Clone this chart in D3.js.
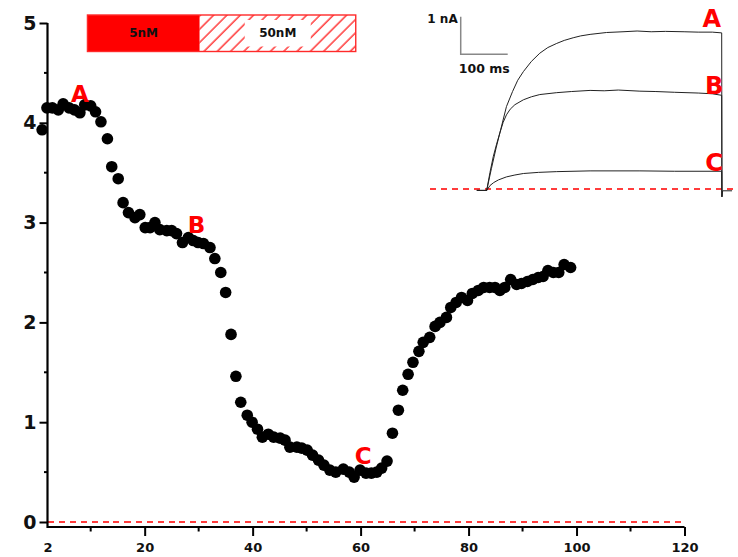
<!DOCTYPE html>
<html>
<head>
<meta charset="utf-8">
<script src="https://cdn.jsdelivr.net/npm/d3@7"></script>
<style>
  html, body { margin: 0; padding: 0; background: #fff; }
  svg { display: block; }
  text { font-family: "DejaVu Sans", Verdana, sans-serif; font-weight: bold; }
</style>
</head>
<body>
<svg id="chart" width="738" height="557"></svg>
<script>
// ---------------- DATA ----------------
const times = [1.0,1.9,2.9,4.0,4.9,6.0,7.0,8.0,8.9,10.0,10.9,11.9,13.1,13.9,15.1,16.0,17.0,18.2,19.1,20.1,
  21.0,21.9,22.8,24.1,25.0,25.9,27.0,28.1,29.0,29.9,30.9,32.1,33.0,34.1,35.0,36.0,36.9,37.8,39.0,39.9,
  40.9,41.8,42.9,43.9,45.1,46.0,46.9,48.2,49.1,50.1,51.1,52.2,53.2,54.3,55.4,56.8,57.9,58.8,59.9,61.0,
  62.0,63.0,63.9,64.9,65.9,67.0,67.8,68.8,69.7,70.8,71.6,72.8,73.8,74.7,75.9,76.7,77.7,78.7,79.8,80.7,
  81.8,82.8,83.9,84.9,85.8,86.7,87.8,88.9,89.8,90.9,91.9,92.9,93.8,94.7,95.7,96.7,97.7,98.9];
const currents = [3.93,4.15,4.15,4.13,4.19,4.15,4.13,4.10,4.18,4.17,4.11,4.01,3.84,3.56,3.44,3.20,3.10,3.05,3.08,2.95,
  2.95,3.00,2.93,2.92,2.92,2.89,2.80,2.85,2.82,2.80,2.79,2.75,2.64,2.50,2.30,1.88,1.46,1.20,1.07,1.00,
  0.93,0.85,0.88,0.85,0.84,0.82,0.75,0.75,0.74,0.72,0.67,0.62,0.57,0.52,0.50,0.53,0.50,0.45,0.52,0.49,
  0.49,0.50,0.54,0.61,0.89,1.12,1.32,1.48,1.60,1.71,1.80,1.85,1.96,2.00,2.05,2.15,2.20,2.25,2.22,2.29,
  2.32,2.35,2.35,2.35,2.32,2.35,2.43,2.38,2.39,2.41,2.43,2.45,2.46,2.52,2.50,2.50,2.58,2.55];

const xTicksMajor = [2, 20, 40, 60, 80, 100, 120];
const xTickLabels = ["2", "20", "40", "60", "80", "100", "120"];
const xTicksMinor = [10, 30, 50, 70, 90, 110];
const yTicksMajor = [0, 1, 2, 3, 4, 5];
const yTickLabels = ["0", "1", "2", "3", "4", "5"];
const yTicksMinor = [0.5, 1.5, 2.5, 3.5, 4.5];

// point annotations on the time course
const markLabels = ["A", "B", "C"];
const markTimes = [8.0, 29.6, 60.5];
const markValues = [4.29, 2.98, 0.66];

// concentration bar
const condLabels = ["5nM", "50nM"];
const condStart = [9.4, 30.2];
const condEnd = [30.2, 59.1];

// inset current traces (time in ms, current in nA)
const traceATime = [-21, 0, 10, 20, 30, 42, 55, 66, 78, 95, 113, 130, 149, 165, 184, 200, 220, 255, 290, 320, 350, 380, 420, 450, 480, 500, 500.5, 502, 522];
const traceAVal  = [-0.03, -0.03, 0.55, 1.1, 1.6, 2.2, 2.6, 2.9, 3.13, 3.4, 3.62, 3.77, 3.88, 3.96, 4.03, 4.08, 4.12, 4.17, 4.19, 4.21, 4.19, 4.2, 4.19, 4.18, 4.18, 4.16, -0.2, -0.04, -0.04];
const traceBTime = [-21, 0, 7, 14, 21, 28, 35, 42, 50, 60, 78, 95, 113, 149, 180, 220, 250, 280, 326, 360, 400, 450, 480, 500, 500.5];
const traceBVal  = [-0.03, -0.03, 0.45, 0.87, 1.2, 1.5, 1.78, 1.98, 2.13, 2.25, 2.38, 2.46, 2.52, 2.57, 2.6, 2.63, 2.62, 2.64, 2.61, 2.6, 2.58, 2.56, 2.54, 2.5, -0.2];
const traceCTime = [-21, 0, 7, 15, 25, 42, 60, 78, 110, 149, 220, 326, 400, 500, 500.5];
const traceCVal  = [-0.03, -0.03, 0.1, 0.18, 0.25, 0.33, 0.38, 0.42, 0.45, 0.47, 0.49, 0.49, 0.48, 0.48, -0.2];
const traceLabels = ["A", "B", "C"];
const traceLabelTime = [479, 484, 484];
const traceLabelVal = [4.52, 2.76, 0.71];
const scaleBarTime = 100;   // ms
const scaleBarCurrent = 1;  // nA

// ---------------- CHART ----------------
const svg = d3.select("#chart");
svg.append("rect").attr("width", 738).attr("height", 557).attr("fill", "#fff");

const x = d3.scaleLinear().domain([2, 120]).range([47.5, 684.5]);
const y = d3.scaleLinear().domain([0, 5]).range([522, 23]);
const xAxisY = 527;

// zero dashed line
svg.append("line")
  .attr("x1", x(2)).attr("x2", x(120)).attr("y1", y(0)).attr("y2", y(0))
  .attr("stroke", "#ff3c3c").attr("stroke-width", 2).attr("stroke-dasharray", "6,5")
  .attr("shape-rendering", "crispEdges");

// x axis
const gx = svg.append("g").attr("transform", `translate(0,${xAxisY})`);
gx.call(d3.axisBottom(x).tickValues(xTicksMajor).tickSize(9).tickSizeOuter(0)
  .tickFormat((d, i) => xTickLabels[i]));
gx.call(g => g.select(".domain").remove());
gx.selectAll(".tick line").attr("stroke", "#000").attr("stroke-width", 2)
  .filter(d => d === 2).remove();
gx.selectAll(".tick text").attr("y", 16).attr("dy", "0.71em")
  .attr("font-size", 13).attr("font-family", "DejaVu Sans, sans-serif").attr("font-weight", "bold").attr("fill", "#111");
gx.selectAll(".minor").data(xTicksMinor).enter().append("line")
  .attr("x1", d => x(d)).attr("x2", d => x(d)).attr("y1", 0).attr("y2", 4.5)
  .attr("stroke", "#000").attr("stroke-width", 2);
gx.append("line").attr("x1", x(2)).attr("x2", x(120)).attr("y1", 0).attr("y2", 0)
  .attr("stroke", "#000").attr("stroke-width", 2.2);

// y axis
const gy = svg.append("g").attr("transform", `translate(${x(2)},0)`);
gy.call(d3.axisLeft(y).tickValues(yTicksMajor).tickSize(8).tickPadding(3).tickSizeOuter(0)
  .tickFormat((d, i) => yTickLabels[i]));
gy.call(g => g.select(".domain").remove());
gy.selectAll(".tick line").attr("stroke", "#000").attr("stroke-width", 2);
gy.selectAll(".tick text").attr("font-size", 19).attr("font-family", "DejaVu Sans, sans-serif")
  .attr("font-weight", "bold").attr("fill", "#111");
gy.selectAll(".minor").data(yTicksMinor).enter().append("line")
  .attr("x1", -3.5).attr("x2", 0).attr("y1", d => y(d)).attr("y2", d => y(d))
  .attr("stroke", "#000").attr("stroke-width", 2);
gy.append("line").attr("x1", 0).attr("x2", 0).attr("y1", y(5)).attr("y2", xAxisY + 1)
  .attr("stroke", "#000").attr("stroke-width", 2.2);

// data dots
const pts = d3.zip(times, currents);
svg.append("g").selectAll("circle").data(pts).enter().append("circle")
  .attr("cx", d => x(d[0])).attr("cy", d => y(d[1])).attr("r", 5.8).attr("fill", "#000");

// A/B/C labels
svg.append("g").selectAll("text").data(markLabels).enter().append("text")
  .attr("x", (d, i) => x(markTimes[i])).attr("y", (d, i) => y(markValues[i]))
  .attr("text-anchor", "middle").attr("dominant-baseline", "central")
  .attr("font-size", 23).attr("fill", "#ff0000").text(d => d);

// concentration bar
const defs = svg.append("defs");
const pat = defs.append("pattern").attr("id", "hatch").attr("patternUnits", "userSpaceOnUse")
  .attr("width", 9.4).attr("height", 9.4).attr("patternTransform", "rotate(45)");
pat.append("rect").attr("width", 9.4).attr("height", 9.4).attr("fill", "#fff");
pat.append("line").attr("x1", 2).attr("x2", 2).attr("y1", 0).attr("y2", 9.4)
  .attr("stroke", "#ff2a2a").attr("stroke-width", 1.4);

const barTop = 15, barH = 36.5;
const bar = svg.append("g");
bar.selectAll("rect.cond").data(condLabels).enter().append("rect")
  .attr("x", (d, i) => x(condStart[i])).attr("y", barTop)
  .attr("width", (d, i) => x(condEnd[i]) - x(condStart[i])).attr("height", barH)
  .attr("fill", (d, i) => i === 0 ? "#ff0000" : "url(#hatch)");
// white box behind second label
bar.append("rect")
  .attr("x", (x(condStart[1]) + x(condEnd[1])) / 2 - 33).attr("y", barTop + 5)
  .attr("width", 66).attr("height", barH - 10).attr("fill", "#fff");
bar.append("rect")
  .attr("x", x(condStart[0])).attr("y", barTop)
  .attr("width", x(condEnd[1]) - x(condStart[0])).attr("height", barH)
  .attr("fill", "none").attr("stroke", "#ff2a2a").attr("stroke-width", 1.4);
bar.selectAll("text").data(condLabels).enter().append("text")
  .attr("x", (d, i) => (x(condStart[i]) + x(condEnd[i])) / 2)
  .attr("y", barTop + barH / 2)
  .attr("text-anchor", "middle").attr("dominant-baseline", "central")
  .attr("font-size", 12).attr("fill", "#111").text(d => d);

// ---------------- INSET ----------------
const xi = d3.scaleLinear().domain([0, 100]).range([486.7, 533.7]);
const yi = d3.scaleLinear().domain([0, 1]).range([189.3, 151.7]);

svg.append("line").attr("x1", 430).attr("x2", 736).attr("y1", Math.round(yi(0))).attr("y2", Math.round(yi(0)))
  .attr("stroke", "#ff3c3c").attr("stroke-width", 1.5).attr("stroke-dasharray", "6,5")
  .attr("shape-rendering", "crispEdges");

const line = d3.line().x(d => xi(d[0])).y(d => yi(d[1])).curve(d3.curveLinear);
const traces = [d3.zip(traceATime, traceAVal), d3.zip(traceBTime, traceBVal), d3.zip(traceCTime, traceCVal)];
svg.append("g").selectAll("path").data(traces).enter().append("path")
  .attr("d", line).attr("fill", "none").attr("stroke", "#222").attr("stroke-width", 1);

// trace labels
svg.append("g").selectAll("text").data(traceLabels).enter().append("text")
  .attr("x", (d, i) => xi(traceLabelTime[i]))
  .attr("y", (d, i) => yi(traceLabelVal[i]))
  .attr("text-anchor", "middle").attr("dominant-baseline", "central")
  .attr("font-size", 24).attr("fill", "#ff0000").text(d => d);

// scale bar
const sbT0 = -55.3, sbI0 = 3.59;
svg.append("path")
  .attr("d", `M${xi(sbT0)},${yi(sbI0 + scaleBarCurrent)} L${xi(sbT0)},${yi(sbI0)} L${xi(sbT0 + scaleBarTime)},${yi(sbI0)}`)
  .attr("fill", "none").attr("stroke", "#888").attr("stroke-width", 1.5);
svg.append("text").attr("x", xi(sbT0) - 3).attr("y", yi(sbI0 + scaleBarCurrent) + 2)
  .attr("text-anchor", "end").attr("dominant-baseline", "central")
  .attr("font-size", 12).attr("fill", "#111").text(scaleBarCurrent + " nA");
svg.append("text").attr("x", xi(sbT0 + scaleBarTime / 2)).attr("y", yi(sbI0) + 14)
  .attr("text-anchor", "middle").attr("dominant-baseline", "central")
  .attr("font-size", 12.5).attr("fill", "#111").text(scaleBarTime + " ms");
</script>
</body>
</html>
